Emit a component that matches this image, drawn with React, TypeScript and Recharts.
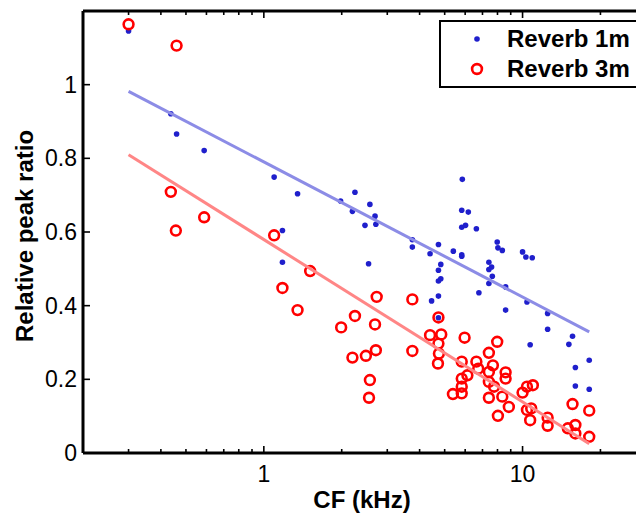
import React from 'react';
import { ScatterChart, Scatter, XAxis, YAxis, Legend } from 'recharts';

// ---- data ----
const reverb1mCF = [
  0.3, 0.437, 0.46, 0.588, 1.096, 1.35, 1.18, 1.18, 1.98,
  5.85, 2.25, 2.2, 2.57, 2.69, 2.46, 2.71, 2.54, 3.75, 3.75,
  5.82, 6.17, 5.82, 6.02, 6.63, 4.39, 4.73, 5.4, 5.82, 5.82,
  4.83, 4.73, 4.83, 4.73, 4.73, 4.45, 4.73,
  7.98, 8.03, 8.35, 7.41, 7.59, 7.41, 7.64, 7.41, 6.78, 8.6, 8.6,
  10.0, 10.3, 10.9, 10.4, 10.7, 12.5, 12.5, 15.6, 15.1, 16.0, 16.0, 18.1, 18.1,
];
const reverb1mRatio = [
  1.146, 0.921, 0.866, 0.821, 0.749, 0.704, 0.604, 0.518, 0.684,
  0.743, 0.708, 0.656, 0.675, 0.643, 0.618, 0.621, 0.514, 0.579, 0.559,
  0.659, 0.654, 0.613, 0.618, 0.609, 0.541, 0.566, 0.548, 0.538, 0.534,
  0.512, 0.496, 0.473, 0.467, 0.426, 0.413, 0.367,
  0.573, 0.557, 0.55, 0.518, 0.505, 0.498, 0.48, 0.46, 0.435, 0.451, 0.388,
  0.546, 0.532, 0.53, 0.41, 0.294, 0.379, 0.336, 0.317, 0.295, 0.232, 0.182, 0.252, 0.173,
];

const reverb3mCF = [
  0.3, 0.46, 0.437, 0.457, 0.588, 1.096, 1.51, 1.18, 1.35,
  2.73, 3.75, 2.25, 1.99, 2.69, 2.2, 2.48, 2.71, 3.75, 2.57, 2.55,
  4.73, 4.39, 4.85, 4.73, 4.75, 4.71, 5.97, 7.98, 5.82, 6.63, 6.74,
  6.12, 5.82, 5.82, 5.82, 5.38, 7.41, 7.68, 7.41, 7.41, 7.76, 7.41,
  8.35, 8.03, 8.6, 8.6, 8.85, 10.0, 10.4, 10.96, 10.4, 10.8, 10.7,
  12.5, 12.5, 15.6, 14.96, 16.0, 16.0, 18.1, 18.1,
];
const reverb3mRatio = [
  1.164, 1.106, 0.709, 0.604, 0.64, 0.591, 0.494, 0.448, 0.388,
  0.424, 0.417, 0.372, 0.341, 0.349, 0.259, 0.264, 0.279, 0.277, 0.198, 0.15,
  0.368, 0.32, 0.322, 0.297, 0.27, 0.243, 0.313, 0.302, 0.248, 0.248, 0.229,
  0.211, 0.202, 0.18, 0.162, 0.16, 0.272, 0.238, 0.22, 0.193, 0.18, 0.15,
  0.153, 0.101, 0.219, 0.202, 0.125, 0.164, 0.18, 0.184, 0.117, 0.121, 0.089,
  0.096, 0.074, 0.133, 0.067, 0.076, 0.053, 0.115, 0.044,
];

// regression lines (end points)
const fit1mCF = [0.3, 18.1];
const fit1mRatio = [0.982, 0.329];
const fit3mCF = [0.3, 18.1];
const fit3mRatio = [0.81, 0.025];

const xTicks = [0.2, 0.3, 0.4, 0.5, 0.6, 0.7, 0.8, 0.9, 1, 2, 3, 4, 5, 6, 7, 8, 9, 10, 20, 30];
const xMajor = [1, 10];
const xDomain = [0.2, 30];
const yTicks = [0, 0.2, 0.4, 0.6, 0.8, 1];
const yDomain = [0, 1.2];

const seriesNames = ['Reverb 1m', 'Reverb 3m'];

const zip = (xs: number[], ys: number[]) => xs.map((cf, i) => ({ cf, ratio: ys[i] }));
const data1m = zip(reverb1mCF, reverb1mRatio);
const data3m = zip(reverb3mCF, reverb3mRatio);
const line1m = zip(fit1mCF, fit1mRatio);
const line3m = zip(fit3mCF, fit3mRatio);

const FONT = '"Liberation Sans", Arial, Helvetica, sans-serif';
const BLUE = '#1f1fcc';
const RED = '#ff0000';

const BottomTick = (props: any) => {
  const { x, y, payload } = props;
  const major = xMajor.includes(payload.value);
  return (
    <g>
      <line x1={x} x2={x} y1={y} y2={y - (major ? 7 : 4)} stroke="#000" strokeWidth={1.6} />
      {major && (
        <text x={x} y={y + 29} textAnchor="middle" fontSize={23} fontFamily={FONT} fill="#000">
          {payload.value}
        </text>
      )}
    </g>
  );
};

const TopTick = (props: any) => {
  const { x, y, payload } = props;
  const major = xMajor.includes(payload.value);
  return <line x1={x} x2={x} y1={y} y2={y + (major ? 7 : 4)} stroke="#000" strokeWidth={1.6} />;
};

const LeftTick = (props: any) => {
  const { x, y, payload } = props;
  return (
    <g>
      <line x1={x} x2={x + 7} y1={y} y2={y} stroke="#000" strokeWidth={1.6} />
      <text x={x - 6} y={y + 8} textAnchor="end" fontSize={23} fontFamily={FONT} fill="#000">
        {String(payload.value)}
      </text>
    </g>
  );
};

const Dot = (props: any) => <circle cx={props.cx} cy={props.cy} r={2.8} fill={BLUE} />;
const Ring = (props: any) => (
  <circle cx={props.cx} cy={props.cy} r={4.9} fill="none" stroke={RED} strokeWidth={2.6} />
);
const NoShape = () => <g />;

const LegendBox = () => (
  <div
    style={{
      boxSizing: 'border-box',
      width: 214,
      height: 68,
      border: '2px solid #000',
      background: '#fff',
      fontFamily: FONT,
      fontWeight: 'bold',
      fontSize: 24,
      position: 'relative',
    }}
  >
    <svg width={20} height={64} style={{ position: 'absolute', left: 26, top: 0 }}>
      <circle cx={10} cy={17} r={2.8} fill={BLUE} />
      <circle cx={10} cy={47} r={4.9} fill="none" stroke={RED} strokeWidth={2.6} />
    </svg>
    <div style={{ position: 'absolute', left: 66, top: 3, lineHeight: '28px', whiteSpace: 'nowrap' }}>
      {seriesNames[0]}
    </div>
    <div style={{ position: 'absolute', left: 66, top: 33, lineHeight: '28px', whiteSpace: 'nowrap' }}>
      {seriesNames[1]}
    </div>
  </div>
);

export default function App() {
  return (
    <div style={{ width: 636, height: 516, overflow: 'hidden', background: '#fff', position: 'relative' }}>
      <style>{'html,body{margin:0;padding:0;overflow:hidden;}'}</style>
      <ScatterChart width={660} height={516} margin={{ top: 10, right: 14, bottom: 0, left: 0 }}>
        <XAxis
          xAxisId={0}
          dataKey="cf"
          type="number"
          scale="log"
          domain={xDomain}
          allowDataOverflow
          ticks={xTicks}
          interval={0}
          height={63}
          tickSize={0}
          tickMargin={0}
          tick={BottomTick}
          axisLine={{ stroke: '#000', strokeWidth: 3 }}
          tickLine={false}
          label={{
            content: () => (
              <text x={362} y={508} textAnchor="middle" fontSize={24} fontWeight="bold" fontFamily={FONT} fill="#000">
                CF (kHz)
              </text>
            ),
          }}
        />
        <XAxis
          xAxisId="top"
          orientation="top"
          dataKey="cf"
          type="number"
          scale="log"
          domain={xDomain}
          allowDataOverflow
          ticks={xTicks}
          interval={0}
          height={1}
          tickSize={0}
          tickMargin={0}
          tick={TopTick}
          axisLine={{ stroke: '#000', strokeWidth: 3 }}
          tickLine={false}
        />
        <YAxis
          yAxisId={0}
          dataKey="ratio"
          type="number"
          domain={yDomain}
          allowDataOverflow
          ticks={yTicks}
          interval={0}
          width={83}
          tickSize={0}
          tickMargin={0}
          tick={LeftTick}
          axisLine={{ stroke: '#000', strokeWidth: 3 }}
          tickLine={false}
          label={{
            content: () => (
              <text
                x={33}
                y={236}
                transform="rotate(-90 33 236)"
                textAnchor="middle"
                fontSize={24}
                fontWeight="bold"
                fontFamily={FONT}
                fill="#000"
              >
                Relative peak ratio
              </text>
            ),
          }}
        />
        <Legend
          layout="vertical"
          align="center"
          verticalAlign="middle"
          wrapperStyle={{ left: 439, top: 20, width: 214 }}
          content={() => <LegendBox />}
        />
        <Scatter name={seriesNames[0]} data={data1m} shape={Dot} isAnimationActive={false} />
        <Scatter name={seriesNames[1]} data={data3m} shape={Ring} isAnimationActive={false} />
        <Scatter
          name="fit1m"
          data={line1m}
          line={{ stroke: '#8c8ce6', strokeWidth: 3 }}
          shape={NoShape}
          legendType="none"
          isAnimationActive={false}
        />
        <Scatter
          name="fit3m"
          data={line3m}
          line={{ stroke: '#ff8686', strokeWidth: 3 }}
          shape={NoShape}
          legendType="none"
          isAnimationActive={false}
        />
      </ScatterChart>
    </div>
  );
}
